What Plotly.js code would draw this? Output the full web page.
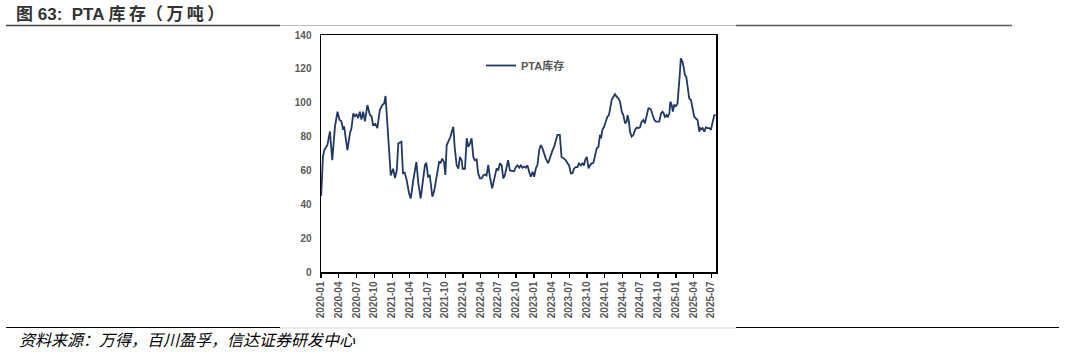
<!DOCTYPE html>
<html>
<head>
<meta charset="utf-8">
<script src="https://cdn.plot.ly/plotly-3.0.1.min.js"></script>
<style>html,body{margin:0;padding:0;background:#fff;}#chart{width:1065px;height:352px;}</style>
</head>
<body>
<div id="chart"></div>
<script>
const seriesName = 'PTA库存';
const dates = [
'2020-01-02','2020-01-11','2020-01-18','2020-02-03','2020-02-16','2020-02-28','2020-03-13','2020-03-26','2020-04-05','2020-04-15',
'2020-04-24','2020-04-29','2020-05-06','2020-05-16','2020-05-29','2020-06-06','2020-06-15','2020-06-23','2020-07-02','2020-07-10',
'2020-07-19','2020-07-27','2020-08-05','2020-08-14','2020-08-27','2020-09-08','2020-09-17','2020-09-25','2020-10-07','2020-10-17',
'2020-10-30','2020-11-11','2020-11-21','2020-11-28','2020-12-05','2020-12-16','2020-12-25','2021-01-06','2021-01-16','2021-01-25',
'2021-02-02','2021-02-18','2021-02-26','2021-03-07','2021-03-17','2021-03-29','2021-04-07','2021-04-20','2021-05-06','2021-05-16',
'2021-05-28','2021-06-09','2021-06-19','2021-06-26','2021-07-05','2021-07-14','2021-07-27','2021-08-05','2021-08-17','2021-08-31',
'2021-09-08','2021-09-16','2021-09-25','2021-10-02','2021-10-09','2021-10-21','2021-10-29','2021-11-04','2021-11-12','2021-11-19',
'2021-11-29','2021-12-08','2021-12-16','2021-12-25','2021-12-30','2022-01-11','2022-01-20','2022-01-28','2022-02-06','2022-02-14',
'2022-02-23','2022-03-03','2022-03-12','2022-03-20','2022-03-29','2022-04-07','2022-04-15','2022-04-24','2022-05-02','2022-05-11',
'2022-05-19','2022-05-31','2022-06-10','2022-06-23','2022-07-01','2022-07-10','2022-07-19','2022-07-27','2022-08-04','2022-08-13',
'2022-08-21','2022-08-30','2022-09-11','2022-09-20','2022-09-30','2022-10-09','2022-10-17','2022-10-26','2022-11-03','2022-11-12',
'2022-11-20','2022-11-29','2022-12-07','2022-12-16','2022-12-25','2023-01-02','2023-01-11','2023-01-19','2023-01-28','2023-02-05',
'2023-02-14','2023-02-22','2023-03-03','2023-03-15','2023-03-25','2023-04-07','2023-04-15','2023-04-24','2023-05-02','2023-05-14',
'2023-05-23','2023-06-05','2023-06-14','2023-06-23','2023-07-01','2023-07-10','2023-07-18','2023-07-27','2023-08-04','2023-08-13',
'2023-08-21','2023-08-30','2023-09-08','2023-09-16','2023-09-21','2023-09-30','2023-10-09','2023-10-17','2023-10-25','2023-11-03',
'2023-11-11','2023-11-20','2023-11-29','2023-12-07','2023-12-12','2023-12-19','2023-12-28','2024-01-05','2024-01-14','2024-01-22',
'2024-01-28','2024-02-05','2024-02-14','2024-02-22','2024-03-02','2024-03-11','2024-03-19','2024-03-28','2024-04-05','2024-04-14',
'2024-04-22','2024-04-27','2024-05-04','2024-05-09','2024-05-18','2024-05-27','2024-06-04','2024-06-13','2024-06-21','2024-06-30',
'2024-07-08','2024-07-17','2024-07-25','2024-08-03','2024-08-12','2024-08-17','2024-08-25','2024-09-03','2024-09-12','2024-09-20',
'2024-09-29','2024-10-07','2024-10-16','2024-10-24','2024-10-29','2024-11-05','2024-11-14','2024-11-19','2024-11-28','2024-12-03',
'2024-12-10','2024-12-16','2024-12-23','2025-01-01','2025-01-09','2025-01-14','2025-01-21','2025-01-26','2025-02-03','2025-02-09',
'2025-02-16','2025-02-23','2025-03-02','2025-03-10','2025-03-19','2025-03-27','2025-04-05','2025-04-13','2025-04-22','2025-05-01',
'2025-05-06','2025-05-13','2025-05-18','2025-05-27','2025-06-04','2025-06-12','2025-06-21','2025-06-30','2025-07-08','2025-07-17',
'2025-07-24'
];
const inventory = [
45,68,72,75,83,66,86,94.7,90,89,
84,86,80,72,82,85,93.7,92,93,91,
94.7,90,94.7,89,98.6,93,92,86.8,87.5,85,
95.7,98.6,99.5,104,92,70,57,61,55.5,60,
76,77,58.3,58.7,54.3,46.5,43.5,54.3,65,52.4,
43.5,54.3,63.2,64.5,56.3,57,44.5,47.5,55.3,65,
64.5,67,65,57.3,75,78,80,83,85.8,74,
63.2,61,68,66,61,61,79,74,76,79,
68,66,66.5,58.3,55.3,55.3,57,57.6,57,63.2,
56.3,49.4,54.3,61.2,60,64.2,63,55.3,57,62,
66,60,59.5,59.5,62,63,61.6,63,61.6,62.3,
61.6,63,59.2,56.3,59.2,56.3,61.2,63.2,72,75,
73,70,67,64.2,68,72,74,78,81,81,
68,67,66,64.2,63,58.3,58.3,61.2,62,62,
64.2,63,64.2,63,66,68,61.2,63,64.2,64.5,
68,73,74,81,79,83.9,85.8,88.8,91.7,92.7,
97.7,101.6,103.5,105,103.5,102.6,100.6,94.7,92.7,87.8,
88.8,92.7,88.8,82.9,80,81,83.9,85.3,85,85.5,
88.8,89.8,87.8,91.7,96.7,96.7,96,92.7,89.8,88.8,
88.8,88.8,93.7,94.7,94,91.7,92.7,91.4,93.7,100.6,
98.6,94.7,98.6,98,99.6,105.5,117.4,126.2,124.3,121.3,
116.4,115.4,109.5,102.6,101.6,96.7,91.7,90.8,89.8,82.9,
85,84.3,85,82.9,85.5,85,85,84,88.8,92.7,
92.7
];
const yTicks = [0,20,40,60,80,100,120,140];
const titleText = '图 63:  PTA 库\u2009存（\u2009万\u2009吨\u2009）';
const sourceText = '资料来源：万得，百川盈孚，信达证券研发中心';

// plot-area geometry in pixels
const W = 1065, H = 352;
const L = 321, R = 716, T = 35, B = 272;
const px = x => (x - L) / (R - L);
const py = y => (B - y) / (B - T);

const tickFont = {family: 'Liberation Sans, Arial, sans-serif', size: 10, color: '#595959', weight: 'bold'};

const trace = {
  x: dates, y: inventory, type: 'scatter', mode: 'lines', name: seriesName,
  line: {color: '#1f3864', width: 1.8}
};

const layout = {
  width: W, height: H,
  margin: {l: L, r: W - R, t: T, b: H - B, pad: 0},
  paper_bgcolor: '#fff', plot_bgcolor: '#fff',
  showlegend: true,
  legend: {
    x: px(481), y: py(51), xanchor: 'left', yanchor: 'top',
    bgcolor: 'rgba(0,0,0,0)', borderwidth: 0,
    font: {family: 'Liberation Sans, Noto Sans CJK SC, sans-serif', size: 11, color: '#595959', weight: 'bold'},
    itemwidth: 30
  },
  title: {
    text: '<b>' + titleText + '</b>', x: 16 / W, xanchor: 'left', xref: 'container',
    y: 1 - 14 / H, yanchor: 'middle', yref: 'container',
    font: {family: 'Liberation Sans, Noto Sans CJK SC, sans-serif', size: 17, color: '#333333'}
  },
  xaxis: {
    type: 'date', range: ['2020-01-01', '2025-07-26'],
    tick0: '2020-01-01', dtick: 'M3', tickformat: '%Y-%m', tickangle: -90,
    ticks: 'outside', ticklen: 4, tickwidth: 1.2, tickcolor: '#000',
    showline: true, linecolor: '#000', linewidth: 1.5, mirror: true,
    showgrid: false, zeroline: false, tickfont: tickFont, automargin: false
  },
  yaxis: {
    range: [0, 140], tickvals: yTicks, ticktext: yTicks.map(String),
    ticks: '', showline: true, linecolor: '#000', linewidth: 1.5, mirror: true,
    showgrid: false, zeroline: false, tickfont: tickFont, ticklabelstandoff: 6, automargin: false
  },
  shapes: [
    {type: 'line', xref: 'paper', yref: 'paper', x0: px(6), x1: px(280), y0: py(25.5), y1: py(25.5), line: {color: '#404040', width: 1.5}},
    {type: 'line', xref: 'paper', yref: 'paper', x0: px(280), x1: px(736), y0: py(25.5), y1: py(25.5), line: {color: '#bfbfbf', width: 1}},
    {type: 'line', xref: 'paper', yref: 'paper', x0: px(736), x1: px(1012), y0: py(25.5), y1: py(25.5), line: {color: '#595959', width: 1.5}},
    {type: 'line', xref: 'paper', yref: 'paper', x0: px(6), x1: px(280), y0: py(327.5), y1: py(327.5), line: {color: '#000', width: 1.2}},
    {type: 'line', xref: 'paper', yref: 'paper', x0: px(280), x1: px(736), y0: py(328), y1: py(328), line: {color: '#d9d9d9', width: 1}},
    {type: 'line', xref: 'paper', yref: 'paper', x0: px(736), x1: px(1059), y0: py(327.5), y1: py(327.5), line: {color: '#000', width: 1.2}}
  ],
  annotations: [
    {text: '<i>' + sourceText + '</i>', xref: 'paper', yref: 'paper', x: px(17), y: py(339), xanchor: 'left', yanchor: 'middle',
     showarrow: false, font: {family: 'Noto Sans CJK SC, sans-serif', size: 16, color: '#000'}}
  ]
};

Plotly.newPlot('chart', [trace], layout, {staticPlot: true, displayModeBar: false});
</script>
</body>
</html>
